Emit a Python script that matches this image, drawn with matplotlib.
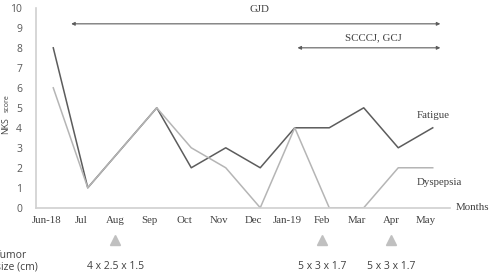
import numpy as np
from matplotlib import pyplot as plt

months = ['Jun-18', 'Jul', 'Aug', 'Sep', 'Oct', 'Nov', 'Dec',
          'Jan-19', 'Feb', 'Mar', 'Apr', 'May']
fatigue = [8, 1, 3, 5, 2, 3, 2, 4, 4, 5, 3, 4]
dyspepsia = [6, 1, 3, 5, 3, 2, 0, 4, 0, 0, 2, 2]

tumor_months = ['Aug', 'Feb', 'Apr']
tumor_sizes = ['4 x 2.5 x 1.5', '5 x 3 x 1.7', '5 x 3 x 1.7']

serif = 'Liberation Serif'
sans = 'Open Sans'
dark = '#5c5c5c'
light = '#b5b5b5'
axis_col = '#d0d0d0'
text_col = '#404040'

fig = plt.figure(figsize=(4.94, 2.8), dpi=100)
ax = fig.add_axes([0.0729, 0.258, 0.838, 0.714])

x = np.arange(len(months))
ax.plot(x, fatigue, color=dark, lw=1.1)
ax.plot(x, dyspepsia, color=light, lw=1.1)

ax.set_xlim(-0.5, 11.5)
ax.set_ylim(0, 10)
ax.set_yticks(range(0, 11))
# labels sit a little left of the points in the original
shift = 0.2
ax.set_xticks(x - shift)
ax.set_xticklabels(months, fontfamily=serif, fontsize=7.8, color=text_col)
for lab in ax.get_yticklabels():
    lab.set_fontfamily(sans)
    lab.set_fontsize(7.5)
    lab.set_color('#595959')
ax.tick_params(length=0, pad=6)
ax.tick_params(axis='y', pad=10)

for s in ['top', 'right']:
    ax.spines[s].set_visible(False)
for s in ['left', 'bottom']:
    ax.spines[s].set_color(axis_col)
    ax.spines[s].set_linewidth(1.2)

# treatment periods
arrow = dict(arrowstyle='<|-|>', color=dark, lw=0.8, mutation_scale=5,
             shrinkA=0, shrinkB=0)
ax.annotate('', xy=(0.52, 9.2), xytext=(11.22, 9.2), arrowprops=arrow,
            annotation_clip=False)
ax.annotate('', xy=(7.08, 8.0), xytext=(11.22, 8.0), arrowprops=arrow,
            annotation_clip=False)
ax.text(5.97, 9.9, 'GJD', fontfamily=serif, fontsize=7.8, color=text_col,
        ha='center', va='center')
ax.text(9.28, 8.5, 'SCCCJ, GCJ', fontfamily=serif, fontsize=7.8,
        color=text_col, ha='center', va='center')

ax.text(10.52, 4.6, 'Fatigue', fontfamily=serif, fontsize=7.8,
        color=text_col, ha='left', va='center')
ax.text(10.52, 1.25, 'Dyspepsia', fontfamily=serif, fontsize=7.8,
        color=text_col, ha='left', va='center')
ax.text(11.65, 0.0, 'Months', fontfamily=serif, fontsize=7.8,
        color=text_col, ha='left', va='center', clip_on=False)

# tumour size markers
for m, size in zip(tumor_months, tumor_sizes):
    xi = months.index(m) - shift
    ax.plot([xi], [-1.6], marker='^', ms=7, color='#c0c0c0',
            clip_on=False, ls='none')
    ax.text(xi, -2.95, size, fontfamily=sans, fontsize=7.5, color=text_col,
            ha='center', va='center', clip_on=False)

fig.text(-0.011, 1 - 255 / 280, 'Tumor', fontfamily=sans, fontsize=7.5,
         color=text_col, ha='left', va='center')
fig.text(-0.009, 1 - 267 / 280, 'size (cm)', fontfamily=sans, fontsize=7.5,
         color=text_col, ha='left', va='center')

# y label: NKS with a small "score"
fig.text(0.012, 1 - 126 / 280, 'NKS', fontfamily=sans, fontsize=6.3,
         color=text_col, rotation=90, ha='center', va='center')
fig.text(0.014, 1 - 103 / 280, 'score', fontfamily=sans, fontsize=5,
         color=text_col, rotation=90, ha='center', va='center')

fig.savefig('out.png', dpi=100)
